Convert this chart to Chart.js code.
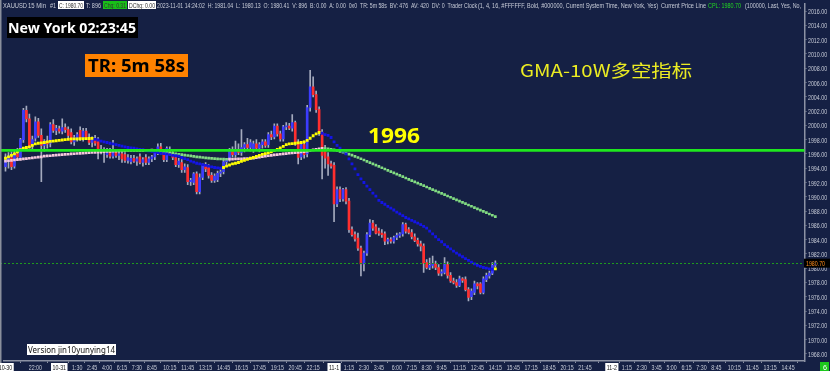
<!DOCTYPE html>
<html lang="en">
<head>
    <meta charset="UTF-8" />
    <title>XAUUSD 15 Min</title>
    <script src="https://cdn.jsdelivr.net/npm/chart.js"></script>
    <style>
        html, body { margin: 0; padding: 0; background: #152044; overflow: hidden; }
        #wrap { width: 830px; height: 371px; }
    </style>
</head>
<body>
<div id="wrap"><canvas id="priceChart" width="830" height="371"></canvas></div>

<script>
    // 15 min bars from 10-30 19:30, last real bar is the current one
    const days = ["10-30", "10-31", "11-1", "11-2"];
    // slots missing from the history (session break)
    const breakSlots = { "10-31": ["5:00", "5:15", "5:30", "5:45"], "11-1": ["5:00", "5:15", "5:30"] };

    const openP = [
        1994.2, 1995.0, 1995.5, 1994.3, 1996.0, 1995.5, 1998.0, 2002.1, 2000.9, 1997.2,
        1998.2, 2000.5, 1998.6, 1997.2, 1997.8, 1997.5, 2000.1, 1999.3, 1999.5, 1999.2,
        1999.7, 1999.4, 1999.0, 1997.7, 1998.3, 1999.3, 1998.2, 1999.2, 1998.3, 1997.6,
        1998.0, 1997.9, 1996.6, 1996.3, 1995.9, 1996.4, 1995.7, 1996.3, 1995.8, 1996.0,
        1995.9, 1995.1, 1994.9, 1995.4, 1995.0, 1995.6, 1994.8, 1995.5, 1994.8, 1995.3,
        1995.6, 1996.2, 1997.0, 1996.2, 1995.2, 1996.6, 1996.0, 1995.5, 1994.5, 1994.8,
        1993.8, 1994.1, 1992.1, 1992.0, 1993.2, 1990.7, 1992.7, 1994.4, 1994.1, 1993.0,
        1992.3, 1992.4, 1993.3, 1993.5, 1994.9, 1995.2, 1996.4, 1995.9, 1996.6, 1996.2,
        1996.9, 1997.3, 1996.9, 1996.6, 1997.4, 1996.8, 1997.3, 1997.7, 1997.3, 1998.7,
        1998.4, 1999.9, 1998.8, 1998.1, 1999.8, 1999.9, 1999.6, 2000.4, 1997.6, 1995.6,
        1997.3, 1996.0, 2002.5, 2005.4, 2004.3, 2002.2, 1999.0, 1996.4, 1995.6, 1994.6,
        1994.4, 1989.0, 1991.0, 1989.7, 1991.0, 1989.4, 1985.4, 1984.7, 1984.2, 1982.8,
        1980.6, 1982.1, 1984.7, 1986.3, 1985.8, 1985.2, 1984.9, 1984.8, 1983.8, 1984.0,
        1983.8, 1984.3, 1984.6, 1984.8, 1986.1, 1985.4, 1985.0, 1984.4, 1983.9, 1983.4,
        1983.1, 1980.8, 1980.1, 1980.4, 1980.6, 1980.1, 1979.3, 1979.4, 1980.5, 1979.0,
        1978.2, 1978.0, 1977.6, 1978.5, 1978.4, 1977.0, 1976.0, 1976.6, 1977.8, 1977.8,
        1976.6, 1978.4, 1978.9, 1979.3, 1980.41
    ];
    const highP = [
        1996.0, 1996.2, 1996.3, 1996.4, 1996.8, 1998.2, 2002.4, 2002.7, 2001.6, 1998.5,
        2001.2, 2001.0, 1999.5, 1998.0, 1998.5, 2000.4, 2000.8, 2000.0, 1999.9, 2000.9,
        2000.2, 1999.8, 1999.5, 1998.6, 1999.0, 1999.8, 1999.6, 1999.6, 1998.8, 1998.4,
        1998.6, 1998.3, 1997.2, 1996.9, 1996.8, 1996.8, 1997.9, 1996.6, 1996.4, 1996.3,
        1996.2, 1995.9, 1995.8, 1995.8, 1995.6, 1996.0, 1995.5, 1995.9, 1995.6, 1995.8,
        1996.4, 1997.4, 1997.5, 1996.4, 1997.0, 1997.0, 1996.4, 1995.9, 1995.4, 1995.2,
        1994.6, 1994.5, 1992.6, 1993.4, 1993.5, 1993.2, 1994.6, 1994.8, 1994.5, 1993.4,
        1993.2, 1993.6, 1993.8, 1995.2, 1995.4, 1996.8, 1997.0, 1997.8, 1997.4, 1999.4,
        1997.6, 1998.2, 1998.0, 1997.8, 1998.0, 1997.6, 1998.0, 1998.0, 1999.0, 1999.2,
        2000.2, 2000.2, 1999.2, 2000.0, 2000.4, 2000.3, 2001.5, 2000.6, 1998.0, 1997.6,
        1997.8, 2002.8, 2007.7, 2006.8, 2004.8, 2002.6, 1999.4, 1997.2, 1996.2, 1995.0,
        1994.8, 1991.4, 1991.4, 1991.2, 1991.3, 1989.8, 1985.8, 1985.1, 1984.9, 1983.1,
        1982.4, 1985.0, 1986.8, 1986.7, 1986.1, 1985.6, 1985.4, 1985.1, 1984.2, 1984.3,
        1984.5, 1984.9, 1985.0, 1986.4, 1986.3, 1985.7, 1985.4, 1984.8, 1984.2, 1983.8,
        1983.4, 1981.2, 1981.4, 1981.7, 1981.0, 1980.5, 1979.8, 1981.5, 1980.9, 1979.4,
        1978.6, 1978.4, 1978.9, 1978.7, 1978.8, 1977.3, 1977.1, 1978.2, 1978.0, 1978.0,
        1978.8, 1979.3, 1979.6, 1980.8, 1981.04
    ];
    const lowP = [
        1993.6, 1994.0, 1993.8, 1994.0, 1995.2, 1995.2, 1997.6, 2000.5, 1996.8, 1996.5,
        1997.8, 1998.3, 1992.1, 1996.4, 1996.8, 1997.0, 1999.0, 1998.7, 1998.9, 1998.8,
        1999.0, 1998.2, 1997.4, 1997.2, 1997.8, 1997.9, 1997.8, 1998.0, 1997.3, 1997.0,
        1997.2, 1995.3, 1996.0, 1994.8, 1995.5, 1995.4, 1995.4, 1995.5, 1995.2, 1994.8,
        1994.8, 1994.7, 1994.6, 1994.8, 1994.4, 1994.6, 1994.3, 1994.5, 1994.5, 1994.9,
        1995.2, 1995.9, 1996.0, 1994.9, 1994.9, 1995.8, 1995.2, 1994.2, 1994.1, 1993.4,
        1993.4, 1991.7, 1991.6, 1991.7, 1990.4, 1990.4, 1992.4, 1993.5, 1992.6, 1992.0,
        1992.0, 1992.1, 1992.8, 1993.2, 1994.4, 1995.0, 1995.6, 1995.5, 1995.9, 1995.8,
        1996.3, 1996.6, 1996.4, 1996.2, 1996.5, 1996.3, 1996.8, 1996.9, 1996.9, 1998.0,
        1998.1, 1998.5, 1997.8, 1997.8, 1999.4, 1999.4, 1999.2, 1997.2, 1994.6, 1995.2,
        1995.4, 1995.6, 2002.0, 2004.0, 2001.8, 1998.6, 1992.5, 1994.0, 1993.0, 1994.0,
        1986.5, 1988.6, 1989.3, 1989.4, 1989.0, 1985.0, 1984.5, 1983.8, 1982.5, 1978.9,
        1979.6, 1981.8, 1984.4, 1985.3, 1984.8, 1984.6, 1984.3, 1983.3, 1983.4, 1983.5,
        1983.5, 1984.0, 1984.3, 1984.5, 1984.9, 1984.8, 1984.1, 1983.7, 1983.1, 1982.4,
        1979.4, 1979.9, 1979.8, 1980.0, 1979.8, 1979.0, 1978.9, 1979.2, 1978.6, 1978.0,
        1977.8, 1977.3, 1977.4, 1978.0, 1976.8, 1975.4, 1975.6, 1976.3, 1977.1, 1976.4,
        1976.4, 1978.1, 1978.6, 1979.1, 1980.13
    ];
    const closeP = [
        1995.5, 1995.6, 1994.2, 1996.0, 1995.6, 1998.0, 2002.1, 2000.9, 1997.2, 1998.0,
        2000.5, 1998.6, 1997.2, 1997.8, 1997.4, 2000.1, 1999.3, 1999.6, 1999.2, 1999.7,
        1999.4, 1998.6, 1997.7, 1998.3, 1998.7, 1998.2, 1999.2, 1998.3, 1997.6, 1998.0,
        1997.5, 1996.6, 1996.3, 1996.5, 1996.4, 1995.7, 1996.3, 1995.8, 1996.0, 1995.3,
        1995.1, 1995.5, 1995.4, 1995.0, 1995.3, 1994.8, 1995.2, 1994.8, 1995.3, 1995.6,
        1996.2, 1997.0, 1996.2, 1995.2, 1996.8, 1996.0, 1995.5, 1994.5, 1995.0, 1993.8,
        1994.2, 1992.1, 1992.3, 1993.2, 1990.7, 1992.7, 1994.4, 1993.9, 1993.0, 1992.3,
        1992.9, 1993.3, 1993.5, 1994.9, 1995.2, 1996.4, 1995.9, 1996.6, 1996.2, 1996.9,
        1997.3, 1996.9, 1997.6, 1997.4, 1996.8, 1997.3, 1997.7, 1997.2, 1998.7, 1998.4,
        1999.9, 1998.8, 1998.1, 1999.8, 1999.9, 1999.6, 2000.4, 1997.6, 1995.5, 1997.3,
        1995.9, 2002.5, 2005.4, 2004.3, 2002.2, 1999.0, 1995.8, 1995.4, 1994.6, 1994.3,
        1989.0, 1991.0, 1989.7, 1991.0, 1989.4, 1985.4, 1984.7, 1984.1, 1982.8, 1980.6,
        1982.1, 1984.7, 1986.3, 1985.6, 1984.9, 1984.9, 1984.7, 1983.8, 1984.0, 1983.8,
        1984.3, 1984.6, 1984.8, 1986.1, 1985.2, 1985.0, 1984.4, 1983.9, 1983.4, 1983.1,
        1980.7, 1980.1, 1980.4, 1980.6, 1980.1, 1979.3, 1979.5, 1980.5, 1979.0, 1978.2,
        1978.0, 1977.6, 1978.5, 1978.3, 1977.0, 1975.9, 1976.8, 1977.8, 1977.5, 1976.6,
        1978.5, 1979.0, 1979.3, 1980.4, 1980.70
    ];

    // GMA fast line (yellow rising / blue falling)
    const fastMA = [
        1995.4, 1995.6, 1995.8, 1996.0, 1996.3, 1996.6, 1996.8, 1996.9, 1997.0, 1997.2,
        1997.4, 1997.5, 1997.55, 1997.6, 1997.7, 1997.75, 1997.8, 1997.85, 1997.9, 1997.95,
        1998.0, 1998.05, 1998.1, 1998.11, 1998.12, 1998.13, 1998.14, 1998.15, 1998.16, 1998.17,
        1998.05, 1997.95, 1997.8, 1997.7, 1997.6, 1997.5, 1997.4, 1997.3, 1997.2, 1997.1,
        1997.0, 1996.9, 1996.85, 1996.8, 1996.7, 1996.65, 1996.6, 1996.5, 1996.45, 1996.35,
        1996.3, 1996.2, 1996.1, 1996.05, 1996.0, 1995.9, 1995.8, 1995.75, 1995.7, 1995.5,
        1995.35, 1995.2, 1995.0, 1994.85, 1994.7, 1994.6, 1994.5, 1994.4, 1994.3, 1994.2,
        1994.1, 1994.05, 1994.0, 1994.1, 1994.3, 1994.45, 1994.6, 1994.7, 1994.8, 1994.95,
        1995.1, 1995.25, 1995.4, 1995.5, 1995.65, 1995.8, 1995.95, 1996.05, 1996.15, 1996.3,
        1996.5, 1996.65, 1996.85, 1997.05, 1997.3, 1997.4, 1997.45, 1997.5, 1997.55, 1997.6,
        1997.7, 1997.9, 1998.2, 1998.55, 1998.8, 1999.0, 1998.9, 1998.7, 1998.6, 1998.3,
        1997.7, 1997.2, 1996.8, 1996.4, 1996.0, 1995.3, 1994.6, 1993.9, 1993.1, 1992.5,
        1992.0, 1991.5, 1991.0, 1990.5, 1990.1, 1989.5, 1989.2, 1988.95, 1988.65, 1988.4,
        1988.15, 1987.85, 1987.6, 1987.35, 1987.1, 1986.9, 1986.7, 1986.5, 1986.3, 1986.1,
        1985.85, 1985.6, 1985.2, 1984.8, 1984.4, 1984.0, 1983.7, 1983.3, 1983.0, 1982.7,
        1982.4, 1982.1, 1981.85, 1981.6, 1981.35, 1981.1, 1980.85, 1980.6, 1980.4, 1980.25,
        1980.1, 1980.0, 1979.9, 1979.85, 1979.9
    ];
    // GMA slow line (pink rising / green falling)
    const slowMA = [
        1995.0, 1995.05, 1995.1, 1995.15, 1995.2, 1995.25, 1995.3, 1995.35, 1995.4, 1995.45,
        1995.5, 1995.55, 1995.6, 1995.7, 1995.72, 1995.75, 1995.8, 1995.83, 1995.86, 1995.9,
        1995.93, 1995.96, 1996.0, 1996.03, 1996.06, 1996.09, 1996.12, 1996.15, 1996.18, 1996.2,
        1996.23, 1996.26, 1996.29, 1996.32, 1996.34, 1996.36, 1996.38, 1996.4, 1996.42, 1996.44,
        1996.46, 1996.48, 1996.49, 1996.5, 1996.5, 1996.51, 1996.51, 1996.52, 1996.52, 1996.53,
        1996.5, 1996.45, 1996.38, 1996.3, 1996.22, 1996.15, 1996.08, 1996.02, 1995.96, 1995.9,
        1995.84, 1995.78, 1995.72, 1995.66, 1995.6, 1995.55, 1995.5, 1995.45, 1995.41, 1995.37,
        1995.34, 1995.31, 1995.29, 1995.27, 1995.26, 1995.27, 1995.28, 1995.29, 1995.3, 1995.32,
        1995.34, 1995.36, 1995.38, 1995.4, 1995.48, 1995.56, 1995.63, 1995.69, 1995.75, 1995.8,
        1995.86, 1995.91, 1995.96, 1996.0, 1996.05, 1996.1, 1996.14, 1996.18, 1996.22, 1996.27,
        1996.33, 1996.4, 1996.48, 1996.56, 1996.64, 1996.72, 1996.78, 1996.76, 1996.72, 1996.66,
        1996.58, 1996.48, 1996.37, 1996.25, 1996.12, 1995.98, 1995.83, 1995.67, 1995.5, 1995.33,
        1995.15, 1994.97, 1994.79, 1994.61, 1994.43, 1994.25, 1994.07, 1993.89, 1993.71, 1993.53,
        1993.35, 1993.17, 1992.99, 1992.81, 1992.63, 1992.45, 1992.27, 1992.09, 1991.91, 1991.73,
        1991.55, 1991.37, 1991.19, 1991.01, 1990.83, 1990.65, 1990.47, 1990.29, 1990.11, 1989.93,
        1989.75, 1989.57, 1989.39, 1989.21, 1989.03, 1988.85, 1988.67, 1988.49, 1988.31, 1988.13,
        1987.95, 1987.77, 1987.59, 1987.41, 1987.23
    ];

    const yTicks = [1968, 1970, 1972, 1974, 1976, 1978, 1980, 1982, 1984, 1986, 1988, 1990, 1992,
        1994, 1996, 1998, 2000, 2002, 2004, 2006, 2008, 2010, 2012, 2014, 2016];

    const shownTicks = [
        "10-30 19:30", "10-30 22:00", "10-31 0:00", "10-31 1:30", "10-31 2:45", "10-31 4:00",
        "10-31 6:15", "10-31 7:30", "10-31 8:45", "10-31 10:15", "10-31 11:45", "10-31 13:15",
        "10-31 14:45", "10-31 16:15", "10-31 17:45", "10-31 19:15", "10-31 20:45", "10-31 22:15",
        "11-1 0:00", "11-1 1:15", "11-1 2:30", "11-1 3:45", "11-1 6:00", "11-1 7:15", "11-1 8:30",
        "11-1 9:45", "11-1 11:15", "11-1 12:45", "11-1 14:15", "11-1 15:45", "11-1 17:15",
        "11-1 18:45", "11-1 20:15", "11-1 21:45", "11-2 0:00", "11-2 1:15", "11-2 2:30",
        "11-2 3:45", "11-2 5:00", "11-2 6:15", "11-2 7:30", "11-2 8:45", "11-2 10:15",
        "11-2 11:45", "11-2 13:15", "11-2 14:45"
    ];

    const LEVEL = 1996.5;
    const LAST = 1980.70;
    const TOTAL_SLOTS = 268;

    // build the 15 min time axis
    function buildTimes() {
        const out = [];
        let d = 0, m = 19 * 60 + 30;
        while (out.length < TOTAL_SLOTS) {
            const t = Math.floor(m / 60) + ":" + String(m % 60).padStart(2, "0");
            const skip = breakSlots[days[d]] || [];
            if (!skip.includes(t)) out.push(days[d] + " " + t);
            m += 15;
            if (m >= 1440) { m = 0; d++; }
        }
        return out;
    }
    const times = buildTimes();

    const BG = "#152044";
    const FAM = "'Liberation Sans', Arial, sans-serif";
    const AXIS_TXT = "#c8ccd8";
    const AXIS_LINE = "#8c92a4";
    const UP = "#3c3cff", DOWN = "#ff2e2e", WICK = "#a4aabe";
    const SQUEEZE = 0.66;

    function isDateTick(i) {
        return i === 0 || times[i].endsWith(" 0:00");
    }

    // text squeezed or stretched into a given width
    function fitText(ctx, text, x, y, w, font, color) {
        ctx.save();
        ctx.font = font;
        ctx.fillStyle = color;
        ctx.textBaseline = "alphabetic";
        const tw = ctx.measureText(text).width;
        ctx.translate(x, y);
        ctx.scale(w / tw, 1);
        ctx.fillText(text, 0, 0);
        ctx.restore();
    }

    function narrowWidth(ctx, text, font) {
        ctx.save(); ctx.font = font;
        const w = ctx.measureText(text).width * SQUEEZE;
        ctx.restore();
        return w;
    }

    const overlay = {
        id: "overlay",
        beforeDraw(chart) {
            const ctx = chart.ctx;
            ctx.save();
            ctx.fillStyle = BG;
            ctx.fillRect(0, 0, chart.width, chart.height);
            ctx.restore();
        },
        afterDatasetsDraw(chart) {
            const ctx = chart.ctx;
            const a = chart.chartArea;
            const y = chart.scales.y;
            ctx.save();
            // current price line
            const yl = Math.round(y.getPixelForValue(LAST)) + 0.5;
            ctx.strokeStyle = "#1f9a1f";
            ctx.lineWidth = 1;
            ctx.setLineDash([2, 2]);
            ctx.beginPath(); ctx.moveTo(0, yl); ctx.lineTo(a.right, yl); ctx.stroke();
            ctx.setLineDash([]);
            // 1996 level
            const yv = y.getPixelForValue(LEVEL);
            ctx.strokeStyle = "#1ee81e";
            ctx.lineWidth = 2.6;
            ctx.beginPath(); ctx.moveTo(0, yv); ctx.lineTo(a.right, yv); ctx.stroke();
            ctx.restore();
        },
        afterDraw(chart) {
            const ctx = chart.ctx;
            const a = chart.chartArea;
            const x = chart.scales.x;
            const y = chart.scales.y;
            ctx.save();
            // left border
            ctx.fillStyle = "#8a8f9c";
            ctx.fillRect(0, 0, 1.5, chart.height);

            // y labels
            const af = "8px " + FAM;
            yTicks.forEach(v => {
                const t = v.toFixed(2);
                fitText(ctx, t, a.right + 3.5, y.getPixelForValue(v) + 3, narrowWidth(ctx, t, af), af, AXIS_TXT);
            });

            // x labels
            x.ticks.forEach(tk => {
                const i = tk.value;
                const parts = times[i].split(" ");
                const t = isDateTick(i) ? parts[0] : parts[1];
                const w = narrowWidth(ctx, t, af);
                const px = x.getPixelForValue(i);
                if (isDateTick(i)) {
                    ctx.fillStyle = "#ffffff";
                    ctx.fillRect(px - w / 2 - 1.5, a.bottom + 2, w + 3, 8);
                    fitText(ctx, t, px - w / 2, a.bottom + 8.8, w, af, "#111111");
                } else {
                    fitText(ctx, t, px - w / 2, a.bottom + 8.8, w, af, AXIS_TXT);
                }
            });

            // header line
            const hf = "7px " + FAM;
            fitText(ctx, "XAUUSD", 3, 8, 24, hf, AXIS_TXT);
            fitText(ctx, "15 Min", 28, 8, 18, hf, AXIS_TXT);
            fitText(ctx, "#1", 50, 8, 6, hf, AXIS_TXT);
            ctx.fillStyle = "#ffffff"; ctx.fillRect(58, 1, 26, 8);
            fitText(ctx, "C: 1980.70", 59, 8, 24, hf, "#333");
            fitText(ctx, "T: 896", 86, 8, 15, hf, AXIS_TXT);
            ctx.fillStyle = "#18c018"; ctx.fillRect(103, 1, 24, 8);
            fitText(ctx, "Chg: 0.31", 104, 8, 22, hf, "#333");
            ctx.fillStyle = "#ffffff"; ctx.fillRect(128, 1, 28, 8);
            fitText(ctx, "DChg: 0.00", 129, 8, 26, hf, "#333");
            fitText(ctx, "2023-11-01 14:24:02  H: 1981.04  L: 1980.13  O: 1980.41  V: 896  B: 0.00  A: 0.00  0x0  TR: 5m 58s  BV: 476  AV: 420  DV: 0  Trader Clock",
                157, 8, 320, hf, AXIS_TXT);
            fitText(ctx, "(1, 4, 16, #FFFFFF, Bold, #000000, Current System Time, New York, Yes)", 478, 8, 180, hf, AXIS_TXT);
            fitText(ctx, "Current Price Line", 661, 8, 45, hf, AXIS_TXT);
            fitText(ctx, "CPL: 1980.70", 708, 8, 33, hf, "#22d822");
            fitText(ctx, "(100000, Last, Yes, No,", 745, 8, 56, hf, AXIS_TXT);

            // trader clock
            ctx.fillStyle = "#000000"; ctx.fillRect(7, 17, 131, 21);
            fitText(ctx, "New York 02:23:45", 8, 33, 128, "bold 15px 'Noto Sans', sans-serif", "#ffffff");

            // timer box
            ctx.fillStyle = "#ff8200"; ctx.fillRect(85, 54, 103, 23);
            fitText(ctx, "TR: 5m 58s", 88, 72, 97, "bold 17px 'Noto Sans', sans-serif", "#000000");

            // indicator name and level
            fitText(ctx, "GMA-10W多空指标", 520, 77, 172, "17px 'Noto Sans CJK SC', sans-serif", "#ecec22");
            fitText(ctx, "1996", 368, 143, 52, "bold 21px 'Noto Sans', sans-serif", "#ffff00");

            // version label
            ctx.fillStyle = "#ffffff"; ctx.fillRect(27, 344, 89, 11);
            fitText(ctx, "Version jin10yunying14", 28, 353, 87, "9px 'Noto Sans', sans-serif", "#111111");

            // last price tag
            const yl = y.getPixelForValue(LAST);
            ctx.fillStyle = "#000000"; ctx.fillRect(804, yl - 4.5, 26, 9);
            fitText(ctx, LAST.toFixed(2), 806, yl + 3, 19, af, "#ff8c1a");

            // corner box
            ctx.fillStyle = "#1cc81c"; ctx.fillRect(820, 362, 9, 9);
            fitText(ctx, "6", 823, 370, 4, af, "#ffffff");
            ctx.restore();
        }
    };

    new Chart(document.getElementById("priceChart"), {
        type: "bar",
        data: {
            labels: times,
            datasets: [
                {
                    label: "GMA fast",
                    type: "line",
                    data: fastMA,
                    showLine: false,
                    pointStyle: "rect",
                    pointRadius: 2,
                    pointBorderWidth: 0,
                    pointBackgroundColor: c => (c.dataIndex > 0 && fastMA[c.dataIndex] < fastMA[c.dataIndex - 1]) ? "#1414e6" : "#ffff00",
                    order: 1
                },
                {
                    label: "GMA slow",
                    type: "line",
                    data: slowMA,
                    showLine: false,
                    pointStyle: "rect",
                    pointRadius: 1.9,
                    pointBorderWidth: 0,
                    pointBackgroundColor: c => (c.dataIndex > 0 && slowMA[c.dataIndex] < slowMA[c.dataIndex - 1]) ? "#82dc82" : "#f5c8dc",
                    order: 2
                },
                {
                    label: "body",
                    data: openP.map((o, i) => [o, closeP[i]]),
                    backgroundColor: c => closeP[c.dataIndex] >= openP[c.dataIndex] ? UP : DOWN,
                    barThickness: 2,
                    minBarLength: 1,
                    grouped: false,
                    order: 3
                },
                {
                    label: "wick",
                    data: lowP.map((l, i) => [l, highP[i]]),
                    backgroundColor: WICK,
                    barThickness: 1,
                    grouped: false,
                    order: 4
                }
            ]
        },
        options: {
            responsive: false,
            animation: false,
            events: [],
            layout: { padding: { left: 0.5 } },
            plugins: { legend: { display: false }, tooltip: { enabled: false } },
            scales: {
                x: {
                    type: "category",
                    offset: true,
                    afterBuildTicks: s => { s.ticks = shownTicks.map(l => ({ value: times.indexOf(l) })); },
                    afterFit: s => { s.height = 10; s.paddingLeft = 0; s.paddingRight = 0; },
                    grid: { display: true, drawOnChartArea: false, drawTicks: true, tickLength: 2, color: AXIS_LINE },
                    border: { display: true, color: AXIS_LINE, width: 1.5 },
                    ticks: { display: false, autoSkip: false }
                },
                y: {
                    position: "right",
                    min: 1967,
                    max: 2017,
                    afterBuildTicks: s => { s.ticks = yTicks.map(v => ({ value: v })); },
                    afterFit: s => { s.width = 25.5; s.paddingTop = 0; s.paddingBottom = 0; },
                    grid: { display: true, drawOnChartArea: false, drawTicks: true, tickLength: 2, color: AXIS_LINE },
                    border: { display: true, color: AXIS_LINE, width: 1.5 },
                    ticks: { display: false }
                }
            }
        },
        plugins: [overlay]
    });
</script>
</body>
</html>
